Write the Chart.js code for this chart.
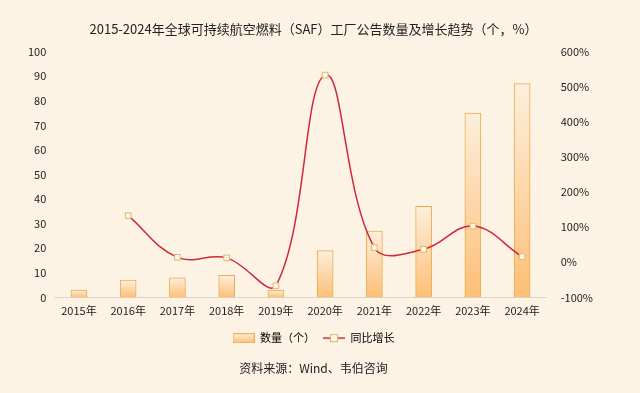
<!DOCTYPE html>
<html>
<head>
<meta charset="utf-8">
<script src="https://cdn.jsdelivr.net/npm/chart.js@4"></script>
<style>
  html, body { margin: 0; padding: 0; background: #fdf3e4; }
  #wrap { width: 640px; height: 393px; }
</style>
</head>
<body>
<div id="wrap"><canvas id="myChart"></canvas></div>
<script>
const years = ["2015年", "2016年", "2017年", "2018年", "2019年", "2020年", "2021年", "2022年", "2023年", "2024年"];
const counts = [3, 7, 8, 9, 3, 19, 27, 37, 75, 87];
const growth = [null, 133, 14, 12.5, -67, 533, 42, 37, 103, 16];

const font = "'Noto Sans CJK SC', 'Noto Sans', sans-serif";
Chart.defaults.font.family = font;
Chart.defaults.color = "#222";

function barFill(ctx) {
  const chart = ctx.chart;
  if (!chart.chartArea || ctx.parsed == null) return "#fcc987";
  const y = chart.scales.y;
  const top = y.getPixelForValue(ctx.parsed.y);
  const base = y.getPixelForValue(0);
  const g = chart.ctx.createLinearGradient(0, top, 0, base);
  g.addColorStop(0, "#fdefdc");
  g.addColorStop(1, "#fdbf76");
  return g;
}

// small legend icons
function barIcon() {
  const c = document.createElement("canvas");
  c.width = 22; c.height = 10;
  const x = c.getContext("2d");
  const g = x.createLinearGradient(0, 0, 0, 10);
  g.addColorStop(0, "#fdefdc");
  g.addColorStop(1, "#fdbf76");
  x.fillStyle = g;
  x.fillRect(0.5, 0.5, 21, 9);
  x.strokeStyle = "#e9b35c";
  x.strokeRect(0.5, 0.5, 21, 9);
  return c;
}
function lineIcon() {
  const c = document.createElement("canvas");
  c.width = 22; c.height = 10;
  const x = c.getContext("2d");
  x.strokeStyle = "#d0283a";
  x.lineWidth = 1.5;
  x.beginPath(); x.moveTo(0, 5); x.lineTo(22, 5); x.stroke();
  x.fillStyle = "#fff6dc";
  x.fillRect(7, 1, 8, 8);
  x.strokeStyle = "#d6b877";
  x.lineWidth = 1;
  x.strokeRect(7.5, 1.5, 7, 7);
  return c;
}
const icons = [barIcon(), lineIcon()];

const config = {
  data: {
    labels: years,
    datasets: [
      {
        type: "line",
        label: "同比增长",
        data: growth,
        yAxisID: "y1",
        borderColor: "#d0283a",
        borderWidth: 1.5,
        tension: 0.4,
        pointStyle: "rect",
        pointRadius: 4,
        pointBackgroundColor: "#fff6dc",
        pointBorderColor: "#d6b877",
        pointBorderWidth: 1,
        order: 0,
      },
      {
        type: "bar",
        label: "数量（个）",
        data: counts,
        yAxisID: "y",
        backgroundColor: barFill,
        borderColor: "#eaac50",
        borderWidth: 1,
        barThickness: 16,
        order: 1,
      },
    ],
  },
  options: {
    responsive: true,
    maintainAspectRatio: false,
    animation: false,
    layout: { padding: { left: 20, right: 33, top: 7, bottom: 11 } },
    plugins: {
      title: {
        display: true,
        text: "2015-2024年全球可持续航空燃料（SAF）工厂公告数量及增长趋势（个，%）",
        color: "#222",
        font: { size: 13, weight: "normal" },
        padding: { top: 14, bottom: 15 },
      },
      subtitle: {
        display: true,
        position: "bottom",
        text: "资料来源：Wind、韦伯咨询",
        color: "#222",
        font: { size: 12 },
        padding: { top: 8, bottom: 6 },
      },
      legend: {
        position: "bottom",
        labels: {
          usePointStyle: true,
          pointStyleWidth: 22,
          color: "#222",
          font: { size: 11 },
          padding: 8,
          generateLabels(chart) {
            return [1, 0].map((i, k) => ({
              text: chart.data.datasets[i].label,
              pointStyle: icons[k],
              datasetIndex: i,
              hidden: false,
              lineWidth: 0,
            }));
          },
        },
      },
      tooltip: { enabled: false },
    },
    scales: {
      x: {
        grid: { display: false, drawTicks: false },
        border: { color: "#d9d4cc" },
        ticks: { color: "#222", font: { size: 11 }, maxRotation: 0, padding: 7 },
      },
      y: {
        position: "left",
        min: 0,
        max: 100,
        grid: { display: false, drawTicks: false },
        border: { display: false },
        ticks: { stepSize: 10, color: "#222", font: { size: 11 }, padding: 8 },
      },
      y1: {
        position: "right",
        min: -100,
        max: 600,
        grid: { display: false, drawTicks: false },
        border: { display: false },
        ticks: { stepSize: 100, color: "#222", font: { size: 11 }, padding: 14, callback: (v) => v + "%" },
      },
    },
  },
};

const myChart = new Chart(document.getElementById("myChart").getContext("2d"), config);
</script>
</body>
</html>
